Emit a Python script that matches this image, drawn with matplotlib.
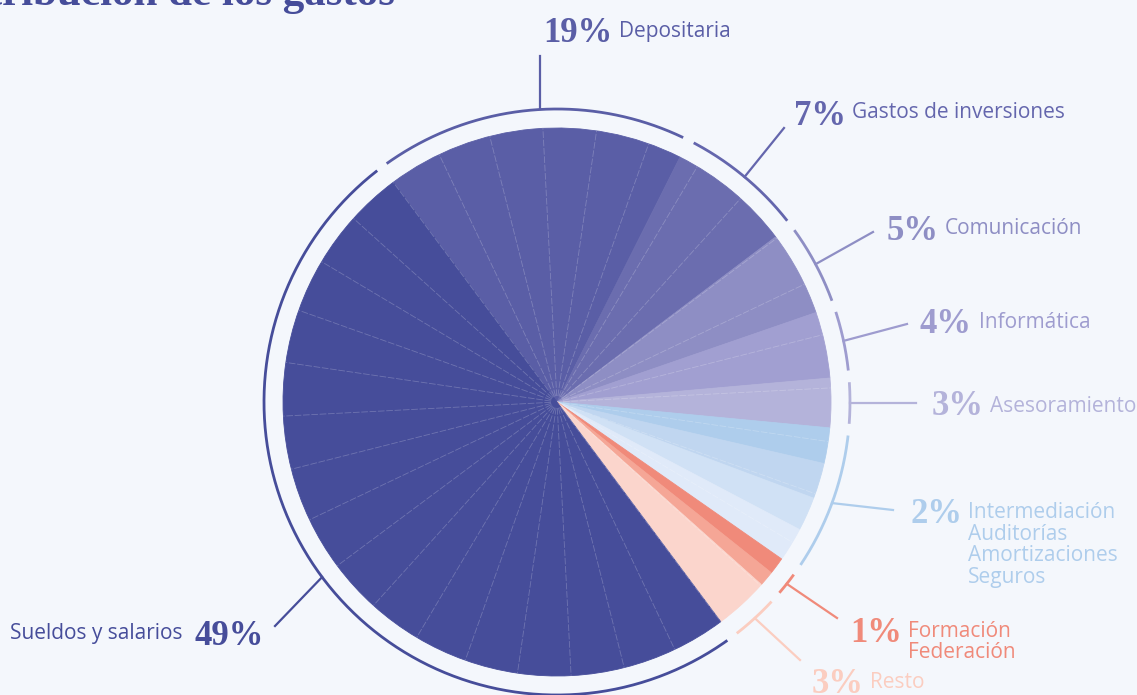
import numpy as np
import matplotlib
matplotlib.use("Agg")
import matplotlib.pyplot as plt

W, H = 1137, 695
BG = "#f4f7fc"

# slice shares (percent of the circle), clockwise from the top-left
slice_names = ["Depositaria", "Gastos de inversiones", "Comunicación", "Informática",
               "Asesoramiento", "Intermediación", "Auditorías", "Amortizaciones", "Seguros",
               "Formación", "Federación", "Resto", "Sueldos y salarios"]
slice_values = [17.6, 7.3, 5.0, 3.9, 2.9, 2.1, 2.1, 2.0, 2.0, 1.0, 0.9, 3.2, 50.0]
slice_colors = ["#5a5ea6", "#6b6daf", "#8e8ec4", "#a19fd1", "#b4b3da", "#aecdec",
                "#c0d6f0", "#d0e1f5", "#e0eaf9", "#f08a7a", "#f5a696", "#fbd5cc", "#464d9a"]
slice_group = [0, 1, 2, 3, 4, 5, 5, 5, 5, 6, 6, 7, 8]

# label groups (outer ring segments)
group_pct = ["19%", "7%", "5%", "4%", "3%", "2%", "1%", "3%", "49%"]
group_lines = [["Depositaria"], ["Gastos de inversiones"], ["Comunicación"], ["Informática"],
               ["Asesoramiento"], ["Intermediación", "Auditorías", "Amortizaciones", "Seguros"],
               ["Formación", "Federación"], ["Resto"], ["Sueldos y salarios"]]
group_colors = ["#5a5ea6", "#6466ad", "#8e8ec4", "#9e9ccf", "#b4b3da", "#aecdec",
                "#f08a7a", "#fbcdc0", "#464d9a"]

# layout (pixels, y measured from top)
cx, cy = 557, 402
r_pie, r_ring = 274, 293
start = 126.7
gap = 2.3
leader_end = [(540, 56), (784, 128), (873, 232), (907, 324), (916, 403),
              (893, 510), (837, 618), (800, 660), (275, 626)]
pct_pos = [(543, 42), (794, 125), (887, 240), (920, 333), (932, 415),
           (910, 523), (850, 642), (812, 693), (264, 645)]
name_pos = [(619, 37), (852, 118), (945, 234), (979, 328), (990, 412),
            (968, 518), (908, 637), (870, 688), (182, 639)]
line_step = 21.5

fig = plt.figure(figsize=(W / 100, H / 100), dpi=100, facecolor=BG)
ax = fig.add_axes([0, 0, 1, 1])
ax.set_facecolor(BG)

Y = lambda y: H - y
c = (cx, Y(cy))

ax.pie(slice_values, colors=slice_colors, startangle=start, counterclock=False,
       radius=r_pie, center=c, frame=True,
       wedgeprops=dict(linewidth=0.6, antialiased=True))
for w, col in zip(ax.patches, slice_colors):
    w.set_edgecolor(col)

# faint radial guide lines
for k in range(32):
    a = np.radians(start - k * 11.25)
    ax.plot([c[0] + 6 * np.cos(a), c[0] + r_pie * np.cos(a)],
            [c[1] + 6 * np.sin(a), c[1] + r_pie * np.sin(a)],
            color="white", alpha=0.22, lw=0.6, dashes=(8, 2), zorder=3)

# group angle spans
cum = np.concatenate([[0], np.cumsum(slice_values)]) / np.sum(slice_values) * 360
ngrp = len(group_pct)
g_hi = [None] * ngrp
g_lo = [None] * ngrp
for i, g in enumerate(slice_group):
    hi = start - cum[i]
    lo = start - cum[i + 1]
    g_hi[g] = hi if g_hi[g] is None else max(g_hi[g], hi)
    g_lo[g] = lo if g_lo[g] is None else min(g_lo[g], lo)

pct_font = "Liberation Serif"
name_font = "Open Sans"

for g in range(ngrp):
    col = group_colors[g]
    t = np.radians(np.linspace(g_lo[g] + gap / 2, g_hi[g] - gap / 2, 200))
    ax.plot(c[0] + r_ring * np.cos(t), c[1] + r_ring * np.sin(t), color=col,
            lw=2.0, solid_capstyle="butt", zorder=4)
    ex, ey = leader_end[g]
    if g == 0:
        # vertical leader from the ring straight up
        sx = ex
        sy = c[1] + np.sqrt(r_ring ** 2 - (ex - c[0]) ** 2)
    else:
        mid = np.radians((g_lo[g] + g_hi[g]) / 2)
        sx, sy = c[0] + r_ring * np.cos(mid), c[1] + r_ring * np.sin(mid)
    ax.plot([sx, ex], [sy, Y(ey)], color=col, lw=1.6, zorder=4)

    px, py = pct_pos[g]
    ha = "right" if g == ngrp - 1 else "left"
    ax.text(px, Y(py), group_pct[g], color=col, fontsize=25, fontweight="bold",
            family=pct_font, ha=ha, va="baseline")
    nx, ny = name_pos[g]
    for j, line in enumerate(group_lines[g]):
        ax.text(nx, Y(ny + j * line_step), line, color=col, fontsize=15,
                family=name_font, ha=ha, va="baseline")

ax.text(395, Y(5), "Distribución de los gastos", color="#464d9a", fontsize=31,
        fontweight="bold", family="Liberation Serif", ha="right", va="baseline")

ax.set_xlim(0, W)
ax.set_ylim(0, H)
ax.set_aspect("equal")
ax.axis("off")
fig.savefig("out.png", dpi=100, facecolor=BG)
